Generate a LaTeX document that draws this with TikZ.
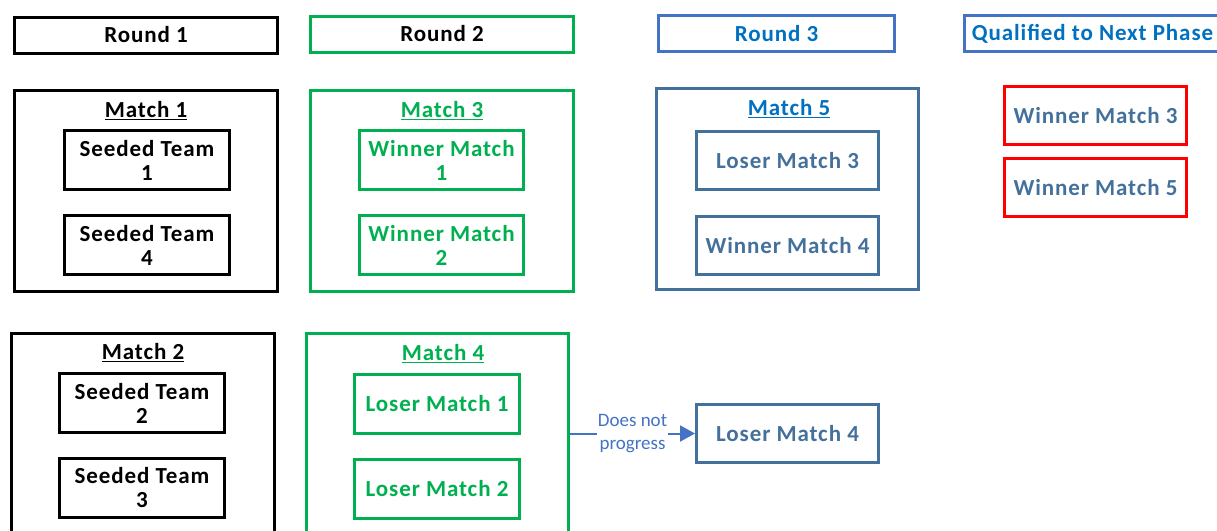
\documentclass[tikz,border=0pt]{standalone}
\usepackage{fontspec}
\setmainfont{Carlito}
\newfontfamily\boxfont[LetterSpace=4]{Carlito}
\usetikzlibrary{arrows.meta}
\definecolor{cgreen}{HTML}{00B050}
\definecolor{cblue}{HTML}{4472C4}
\definecolor{ctitle}{HTML}{0070C0}
\definecolor{cslate}{HTML}{41719C}
\definecolor{ctext}{HTML}{44719C}
\definecolor{cred}{HTML}{FF0000}
\tikzset{
  bx/.style={draw, line width=3pt, inner sep=0pt, align=center,
    font=\boxfont\fontsize{23}{24}\selectfont\bfseries},
  hdr/.style={bx, minimum height=36pt},
  outer/.style={bx, minimum height=201pt},
  inner/.style={bx, minimum height=59pt},
  mtitle/.style={inner sep=0pt, font=\boxfont\fontsize{23}{24}\selectfont\bfseries},
  blk/.style={draw=black, text=black},
  grn/.style={draw=cgreen, text=cgreen},
  blu/.style={draw=cslate, text=ctext},
  red/.style={draw=cred, text=ctext},
  lbl/.style={fill=white, inner sep=1pt, align=center, text=cblue,
    font=\fontsize{19}{23}\selectfont},
  conn/.style={draw=cblue, line width=2pt, -{Triangle[length=15pt,width=16pt]}}
}
\begin{document}
\begin{tikzpicture}[x=1pt,y=-1pt]
\useasboundingbox (0,0) rectangle (1217,530);
% headers
\node[hdr, blk, minimum width=263pt] (r1) at (146,35) {Round 1};
\node[hdr, grn, text=black, minimum width=263pt] (r2) at (442,34) {Round 2};
\node[hdr, draw=cblue, text=ctitle, minimum width=236pt] (r3) at (776.5,33.5) {Round 3};
\node[hdr, draw=cblue, text=ctitle, minimum width=256pt] (q) at (1092.5,33.5) {Qualified to Next Phase};
% outer match boxes
\node[outer, blk, minimum width=263pt] (m1) at (146,191) {};
\node[outer, grn, minimum width=263pt] (m3) at (442,191) {};
\node[outer, blu, minimum width=262pt] (m5) at (787.5,189) {};
\node[outer, blk, minimum width=263pt, minimum height=210pt] (m2) at (143,438.5) {};
\node[outer, grn, minimum width=262pt, minimum height=210pt] (m4) at (437.5,438.5) {};
% titles
\node[mtitle, text=black] (t1) at (146,111) {\underline{Match 1}};
\node[mtitle, text=cgreen] (t3) at (442,111) {\underline{Match 3}};
\node[mtitle, text=ctitle] (t5) at (789,109) {\underline{Match 5}};
\node[mtitle, text=black] (t2) at (143,353) {\underline{Match 2}};
\node[mtitle, text=cgreen] (t4) at (443,354) {\underline{Match 4}};
% inner boxes
\node[inner, blk, minimum width=165pt] (st1) at (147,160) {Seeded Team\\1};
\node[inner, blk, minimum width=165pt] (st4) at (147,245) {Seeded Team\\4};
\node[inner, grn, minimum width=164pt] (wm1) at (441.5,160) {Winner Match\\1};
\node[inner, grn, minimum width=164pt] (wm2) at (441.5,245) {Winner Match\\2};
\node[inner, blu, minimum width=182pt, minimum height=58pt] (lm3) at (787.5,160.5) {Loser Match 3};
\node[inner, blu, minimum width=182pt, minimum height=58pt] (wm4) at (787.5,245.5) {Winner Match 4};
\node[inner, red, minimum width=182pt, minimum height=58pt] (wm3) at (1095.5,115.5) {Winner Match 3};
\node[inner, red, minimum width=182pt, minimum height=58pt] (wm5) at (1095.5,187.5) {Winner Match 5};
\node[inner, blk, minimum width=165pt] (st2) at (142,403) {Seeded Team\\2};
\node[inner, blk, minimum width=165pt] (st3) at (142,488) {Seeded Team\\3};
\node[inner, grn, minimum width=165pt] (lm1) at (437,403.5) {Loser Match 1};
\node[inner, grn, minimum width=165pt] (lm2) at (437,488.5) {Loser Match 2};
\node[inner, blu, minimum width=182pt, minimum height=58pt] (lm4) at (787.5,433.5) {Loser Match 4};
% connector
\draw[conn] (m4.east |- lm4) -- node[lbl] (np) {Does not\\progress} (lm4.west);
\end{tikzpicture}
\end{document}
